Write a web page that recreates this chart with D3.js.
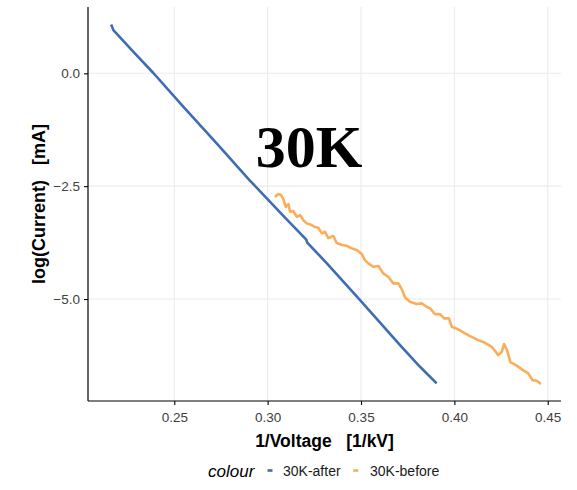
<!DOCTYPE html>
<html>
<head>
<meta charset="utf-8">
<script src="https://cdn.jsdelivr.net/npm/d3@7"></script>
<style>
  html, body { margin: 0; padding: 0; background: #ffffff; }
  svg { display: block; }
</style>
</head>
<body>
<svg id="chart" width="577" height="490"></svg>
<script>
// Fowler–Nordheim style plot: log(current) against inverse voltage, 30K sample

const seriesNames = ["30K-after", "30K-before"];
const seriesColors = ["#3e6db4", "#fbad59"];

// 1/Voltage [1/kV] and log(Current) [mA] after treatment
const afterX = [0.2162, 0.2174, 0.2280, 0.2388, 0.2548, 0.2727, 0.2905, 0.3093, 0.3207, 0.3212,
  0.3316, 0.3495, 0.3709, 0.3816, 0.3905];
const afterY = [1.081, 0.959, 0.483, 0.007, -0.736, -1.551, -2.375, -3.195, -3.683, -3.749,
  -4.204, -5.024, -6.021, -6.501, -6.869];

// 1/Voltage [1/kV] and log(Current) [mA] before treatment
const beforeX = [0.3039, 0.3057, 0.3072, 0.3084, 0.3097, 0.3111, 0.3120, 0.3137, 0.3156, 0.3173,
  0.3191, 0.3209, 0.3236, 0.3254, 0.3271, 0.3290, 0.3307, 0.3325, 0.3352, 0.3370,
  0.3397, 0.3423, 0.3450, 0.3477, 0.3504, 0.3521, 0.3539, 0.3566, 0.3593, 0.3619,
  0.3646, 0.3673, 0.3700, 0.3718, 0.3736, 0.3762, 0.3798, 0.3825, 0.3852, 0.3870,
  0.3896, 0.3923, 0.3945, 0.3971, 0.3986, 0.4021, 0.4057, 0.4084, 0.4128, 0.4164,
  0.4200, 0.4235, 0.4254, 0.4266, 0.4282, 0.4300, 0.4334, 0.4369, 0.4396, 0.4418,
  0.4441, 0.4463];
const beforeY = [-2.741, -2.674, -2.697, -2.785, -2.956, -2.896, -3.067, -3.051, -3.178, -3.140,
  -3.251, -3.324, -3.361, -3.406, -3.421, -3.545, -3.510, -3.650, -3.605, -3.760,
  -3.805, -3.820, -3.878, -3.915, -4.004, -4.137, -4.210, -4.285, -4.270, -4.432,
  -4.507, -4.653, -4.653, -4.780, -4.968, -5.061, -5.112, -5.096, -5.172, -5.207,
  -5.334, -5.334, -5.429, -5.429, -5.615, -5.673, -5.761, -5.821, -5.910, -5.969,
  -6.058, -6.242, -6.169, -5.998, -6.131, -6.397, -6.475, -6.581, -6.647, -6.796,
  -6.811, -6.884];

const xTicks = [0.25, 0.30, 0.35, 0.40, 0.45];
const yTicks = [0.0, -2.5, -5.0];
const xDomain = [0.2038, 0.4571];
const yDomain = [-7.259, 1.469];

const svg = d3.select("#chart");
const panel = { left: 88, right: 561, top: 7, bottom: 401 };

const x = d3.scaleLinear().domain(xDomain).range([panel.left, panel.right]);
const y = d3.scaleLinear().domain(yDomain).range([panel.bottom, panel.top]);

// major grid
const grid = svg.append("g");
grid.selectAll("line.gx").data(xTicks).join("line")
  .attr("x1", d => x(d)).attr("x2", d => x(d))
  .attr("y1", panel.top).attr("y2", panel.bottom)
  .attr("stroke", "#ebebeb").attr("stroke-width", 1.1);
grid.selectAll("line.gy").data(yTicks).join("line")
  .attr("x1", panel.left).attr("x2", panel.right)
  .attr("y1", d => y(d)).attr("y2", d => y(d))
  .attr("stroke", "#ebebeb").attr("stroke-width", 1.1);

// series lines
const series = [
  { name: seriesNames[0], color: seriesColors[0], pts: afterX.map((v, i) => [v, afterY[i]]) },
  { name: seriesNames[1], color: seriesColors[1], pts: beforeX.map((v, i) => [v, beforeY[i]]) }
];
const line = d3.line().x(d => x(d[0])).y(d => y(d[1]));
svg.append("g").selectAll("path").data(series).join("path")
  .attr("d", d => line(d.pts))
  .attr("fill", "none")
  .attr("stroke", d => d.color)
  .attr("stroke-width", 2.6)
  .attr("stroke-linejoin", "round")
  .attr("stroke-linecap", "butt");

// axes
const xAxis = d3.axisBottom(x).tickValues(xTicks).tickFormat(d3.format(".2f")).tickSize(4).tickPadding(7);
const yAxis = d3.axisLeft(y).tickValues(yTicks).tickFormat(d3.format(".1f")).tickSize(4).tickPadding(4);

const gx = svg.append("g").attr("transform", `translate(0,${panel.bottom})`).call(xAxis);
const gy = svg.append("g").attr("transform", `translate(${panel.left},0)`).call(yAxis);
[gx, gy].forEach(g => {
  g.select(".domain").attr("stroke", "#000").attr("stroke-width", 1.2);
  g.selectAll(".tick line").attr("stroke", "#000").attr("stroke-width", 1.1);
  g.selectAll(".tick text")
    .attr("fill", "#404040")
    .style("font-family", "Liberation Sans, Arial, sans-serif")
    .style("font-size", "13.5px");
});
gx.select(".domain").attr("d", `M${panel.left},0H${panel.right}`);
gy.select(".domain").attr("d", `M0,${panel.top}V${panel.bottom}`);

// axis titles
svg.append("text")
  .attr("x", (panel.left + panel.right) / 2).attr("y", 447)
  .attr("text-anchor", "middle")
  .style("font-family", "Liberation Sans, Arial, sans-serif")
  .style("font-size", "17.5px").style("font-weight", "bold")
  .attr("xml:space", "preserve")
  .text("1/Voltage   [1/kV]");

svg.append("text")
  .attr("transform", `translate(45,${(panel.top + panel.bottom) / 2}) rotate(-90)`)
  .attr("text-anchor", "middle")
  .style("font-family", "Liberation Sans, Arial, sans-serif")
  .style("font-size", "18px").style("font-weight", "bold")
  .attr("xml:space", "preserve")
  .text("log(Current)   [mA]");

// annotation
svg.append("text")
  .attr("x", 309).attr("y", 166.5)
  .attr("text-anchor", "middle")
  .style("font-family", "Liberation Serif, 'Times New Roman', serif")
  .style("font-size", "60px").style("font-weight", "bold")
  .text("30K");

// legend
const legend = svg.append("g");
legend.append("text")
  .attr("x", 208).attr("y", 477)
  .style("font-family", "Liberation Sans, Arial, sans-serif")
  .style("font-size", "17px").style("font-style", "italic")
  .text("colour");

const keyPos = [{ kx: 267.5, tx: 283 }, { kx: 353.3, tx: 370 }];
legend.selectAll("g.key").data(series).join("g")
  .each(function (d, i) {
    const g = d3.select(this);
    g.append("line")
      .attr("x1", keyPos[i].kx).attr("x2", keyPos[i].kx + 5)
      .attr("y1", 470.5).attr("y2", 470.5)
      .attr("stroke", d.color).attr("stroke-width", 2.6);
    g.append("text")
      .attr("x", keyPos[i].tx).attr("y", 476)
      .style("font-family", "Liberation Sans, Arial, sans-serif")
      .style("font-size", "14px")
      .attr("fill", "#1a1a1a")
      .text(d.name);
  });
</script>
</body>
</html>
